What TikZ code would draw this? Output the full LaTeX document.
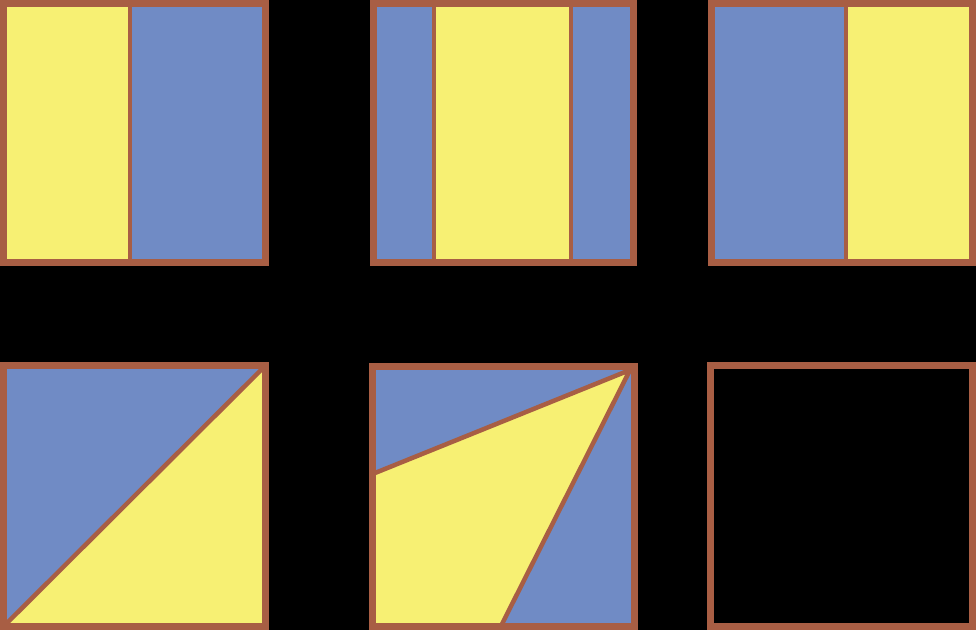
\documentclass[tikz,border=0pt]{standalone}
\definecolor{yel}{RGB}{247,240,115}
\definecolor{blu}{RGB}{112,139,197}
\definecolor{brd}{RGB}{168,94,68}
\begin{document}
\begin{tikzpicture}[x=1pt,y=-1pt,
  frame/.style={draw=brd,line width=7pt},
  divider/.style={draw=brd,line width=4pt},
  slant/.style={draw=brd,line width=4.5pt}]
\fill[black] (0,0) rectangle (976,630);
\useasboundingbox (0,0) rectangle (976,630);
% Square 1
\fill[yel] (3.5,3) rectangle (130,262.5);
\fill[blu] (130,3) rectangle (265.5,262.5);
\coordinate (d1t) at (130,3); \coordinate (d1b) at (130,262.5);
\draw[divider] (d1t) -- (d1b);
\draw[frame] (3.5,3) rectangle (265.5,262.5);
% Square 2
\fill[blu] (373,3) rectangle (434,262.5);
\fill[yel] (434,3) rectangle (571,262.5);
\fill[blu] (571,3) rectangle (633.5,262.5);
\coordinate (d2at) at (434,3); \coordinate (d2ab) at (434,262.5);
\coordinate (d2bt) at (571,3); \coordinate (d2bb) at (571,262.5);
\draw[divider] (d2at) -- (d2ab);
\draw[divider] (d2bt) -- (d2bb);
\draw[frame] (373,3) rectangle (633.5,262.5);
% Square 3
\fill[blu] (711.5,3) rectangle (846,262.5);
\fill[yel] (846,3) rectangle (972.5,262.5);
\coordinate (d3t) at (846,3); \coordinate (d3b) at (846,262.5);
\draw[divider] (d3t) -- (d3b);
\draw[frame] (711.5,3) rectangle (972.5,262.5);
% Square 4
\coordinate (s4tr) at (265.5,365.5); \coordinate (s4bl) at (3.5,626.5);
\fill[blu] (3.5,365.5) -- (s4tr) -- (s4bl) -- cycle;
\fill[yel] (s4tr) -- (265.5,626.5) -- (s4bl) -- cycle;
\draw[slant] (s4tr) -- (s4bl);
\draw[frame] (3.5,365.5) rectangle (265.5,626.5);
% Square 5
\fill[blu] (372.5,366) rectangle (634,626);
\coordinate (s5c) at (630,370);
\coordinate (s5l) at (372.5,474);
\coordinate (s5b) at (501,626);
\fill[yel] (s5l) -- (s5c) -- (s5b) -- (372.5,626) -- cycle;
\draw[slant] (s5l) -- (s5c) -- (s5b);
\draw[frame] (372.5,366) rectangle (634,626);
% Square 6
\draw[frame] (710.5,365.5) rectangle (972.5,626.5);
\end{tikzpicture}
\end{document}
